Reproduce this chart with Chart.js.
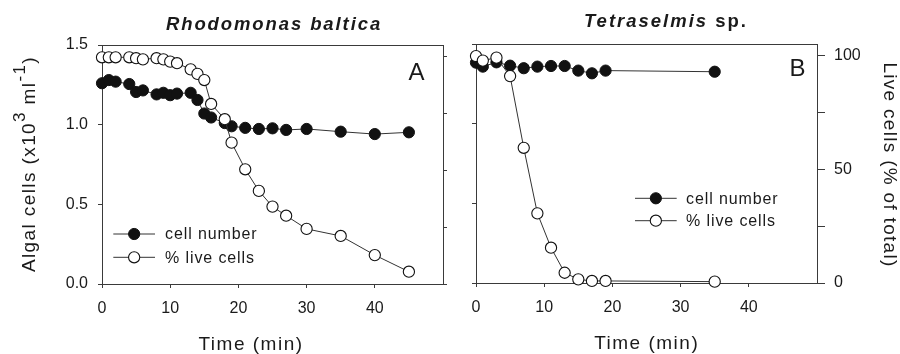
<!DOCTYPE html>
<html>
<head>
<meta charset="utf-8">
<script src="https://cdn.jsdelivr.net/npm/chart.js@4"></script>
<style>
    html, body { margin: 0; padding: 0; background: #fff; }
    #wrap { position: relative; width: 900px; height: 354px; }
    .panel { position: absolute; top: 0; height: 354px; }
    #panelA { left: 0; width: 460px; }
    #panelB { left: 460px; width: 440px; }
</style>
</head>
<body>
<div id="wrap">
    <div class="panel" id="panelA"><canvas id="chartA"></canvas></div>
    <div class="panel" id="panelB"><canvas id="chartB"></canvas></div>
</div>
<script>
// Dados (tempo em minutos)
const timeA = [0, 1, 2, 4, 5, 6, 8, 9, 10, 11, 13, 14, 15, 16, 18, 19, 21, 23, 25, 27, 30, 35, 40, 45];
const cellsA = [1.26, 1.28, 1.27, 1.255, 1.205, 1.215, 1.19, 1.2, 1.185, 1.195, 1.2, 1.155, 1.07, 1.045,
    1.01, 0.99, 0.98, 0.973, 0.977, 0.967, 0.973, 0.956, 0.941, 0.952];
const liveA = [99.6, 99.6, 99.6, 99.6, 99.2, 98.7, 99.2, 98.7, 97.7, 97.0, 94.3, 92.3, 89.6, 79.1,
    72.4, 62.1, 50.4, 40.9, 34.0, 30.0, 24.2, 21.1, 12.7, 5.4];

const timeB = [0, 1, 3, 5, 7, 9, 11, 13, 15, 17, 19, 35];
const cellsB = [1.383, 1.358, 1.385, 1.364, 1.348, 1.358, 1.362, 1.362, 1.333, 1.316, 1.333, 1.326];
const liveB = [99.7, 97.7, 99.0, 90.9, 59.4, 30.6, 15.5, 4.5, 1.6, 0.9, 0.9, 0.6];

// Ticks
const timeTicks = [0, 10, 20, 30, 40];
const cellTicks = [0, 0.5, 1.0, 1.5];
const pctTicks = [0, 25, 50, 75, 100];

const FONT = '"Liberation Sans", Arial, Helvetica, sans-serif';
const INK = '#1a1a1a';
const AXIS = '#3a3a3a';

Chart.defaults.font.family = FONT;
Chart.defaults.font.size = 16;
Chart.defaults.color = INK;

/**
 * Desenha uma sequência de trechos de texto (permite itálico misto e sobrescritos)
 */
function drawRuns(ctx, item) {
    ctx.save();
    ctx.fillStyle = INK;
    ctx.letterSpacing = (item.spacing || 0) + 'px';
    ctx.textBaseline = 'alphabetic';
    ctx.textAlign = 'left';
    const widths = item.runs.map(r => { ctx.font = r.font; return ctx.measureText(r.text).width; });
    const total = widths.reduce((a, b) => a + b, 0);
    ctx.translate(item.x, item.y);
    if (item.rotate) ctx.rotate(item.rotate);
    let x = -total / 2;
    item.runs.forEach((r, i) => {
        ctx.font = r.font;
        ctx.fillText(r.text, x, -(r.rise || 0));
        x += widths[i];
    });
    ctx.restore();
}

const panelText = {
    id: 'panelText',
    afterDraw(chart, args, opts) {
        (opts.items || []).forEach(item => drawRuns(chart.ctx, item));
    }
};

// Legenda desenhada dentro da área do gráfico
const panelLegend = {
    id: 'panelLegend',
    afterDraw(chart, args, opts) {
        if (!opts.rows) return;
        const ctx = chart.ctx;
        ctx.save();
        chart.data.datasets.forEach((ds, i) => {
            const y = opts.rows[i];
            ctx.strokeStyle = ds.borderColor;
            ctx.lineWidth = 1;
            ctx.beginPath();
            ctx.moveTo(opts.lineFrom, y);
            ctx.lineTo(opts.lineTo, y);
            ctx.stroke();
            ctx.beginPath();
            ctx.arc((opts.lineFrom + opts.lineTo) / 2, y, ds.pointRadius, 0, Math.PI * 2);
            ctx.fillStyle = ds.pointBackgroundColor;
            ctx.fill();
            ctx.lineWidth = ds.pointBorderWidth;
            ctx.strokeStyle = ds.pointBorderColor;
            ctx.stroke();
            ctx.fillStyle = INK;
            ctx.font = '16px ' + FONT;
            ctx.letterSpacing = '0.9px';
            ctx.textBaseline = 'middle';
            ctx.fillText(ds.label, opts.textX, y + 1);
            ctx.letterSpacing = '0px';
        });
        ctx.restore();
    }
};

function toPoints(xs, ys) {
    return xs.map((x, i) => ({ x: x, y: ys[i] }));
}

function datasets(times, cells, live) {
    return [
        {
            label: 'cell number',
            data: toPoints(times, cells),
            xAxisID: 'x',
            yAxisID: 'y',
            borderColor: '#333',
            borderWidth: 1,
            pointRadius: 5.6,
            pointBackgroundColor: '#111',
            pointBorderColor: '#111',
            pointBorderWidth: 1,
            order: 1,
            clip: false
        },
        {
            label: '% live cells',
            data: toPoints(times, live),
            xAxisID: 'x',
            yAxisID: 'yPct',
            borderColor: '#333',
            borderWidth: 1,
            pointRadius: 5.6,
            pointBackgroundColor: '#fff',
            pointBorderColor: '#111',
            pointBorderWidth: 1.1,
            order: 0,
            clip: false
        }
    ];
}

function frameGrid(len) {
    return { drawOnChartArea: false, drawTicks: true, tickLength: len, color: AXIS, lineWidth: 1 };
}

const frameBorder = { display: true, color: AXIS, width: 1 };

function buildScales(cfg) {
    return {
        x: {
            type: 'linear', position: 'bottom', min: 0, max: 50,
            afterBuildTicks: s => { s.ticks = timeTicks.map(v => ({ value: v })); },
            ticks: { padding: 11, color: INK },
            grid: frameGrid(4),
            border: frameBorder,
            afterFit: s => { s.height = cfg.bottom; }
        },
        xTop: {
            type: 'linear', position: 'top', min: 0, max: 50,
            ticks: { display: false },
            grid: { display: false },
            border: frameBorder,
            afterFit: s => { s.height = 0; }
        },
        y: {
            type: 'linear', position: 'left', min: 0, max: 1.5,
            afterBuildTicks: s => { s.ticks = cellTicks.map(v => ({ value: v })); },
            ticks: { display: cfg.leftLabels, padding: 10, color: INK, callback: v => v.toFixed(1) },
            grid: frameGrid(4),
            border: frameBorder,
            afterFit: s => { s.width = cfg.left; }
        },
        yPct: {
            type: 'linear', position: 'right', min: 0, max: 105,
            afterBuildTicks: s => { s.ticks = pctTicks.map(v => ({ value: v })); },
            ticks: { display: cfg.rightLabels, padding: 9, color: INK, callback: v => (v % 50 === 0 ? v : '') },
            grid: frameGrid(cfg.rightTick),
            border: frameBorder,
            afterFit: s => { s.width = cfg.right; }
        }
    };
}

const baseOptions = {
    responsive: true,
    maintainAspectRatio: false,
    animation: false,
    events: []
};

// Painel A - Rhodomonas baltica
new Chart(document.getElementById('chartA'), {
    type: 'line',
    data: { datasets: datasets(timeA, cellsA, liveA) },
    options: {
        ...baseOptions,
        layout: { padding: { top: 45, left: 0, right: 0, bottom: 0 } },
        scales: buildScales({ left: 102, right: 17, bottom: 70, leftLabels: true, rightLabels: false, rightTick: 4 }),
        plugins: {
            legend: { display: false },
            tooltip: { enabled: false },
            panelLegend: { rows: [234, 257.3], lineFrom: 113.3, lineTo: 155, textX: 165 },
            panelText: {
                items: [
                    { x: 274, y: 30, spacing: 1.9, runs: [{ text: 'Rhodomonas baltica', font: 'italic bold 18.5px ' + FONT }] },
                    { x: 416.5, y: 80, runs: [{ text: 'A', font: '24px ' + FONT }] },
                    { x: 251, y: 350, spacing: 1.5, runs: [{ text: 'Time (min)', font: '19px ' + FONT }] },
                    {
                        x: 35, y: 164, rotate: -Math.PI / 2, spacing: 1.4,
                        runs: [
                            { text: 'Algal cells (x10', font: '19px ' + FONT },
                            { text: '3', font: '17px ' + FONT, rise: 10 },
                            { text: ' ml', font: '19px ' + FONT },
                            { text: '-1', font: '17px ' + FONT, rise: 10 },
                            { text: ')', font: '19px ' + FONT }
                        ]
                    }
                ]
            }
        }
    },
    plugins: [panelText, panelLegend]
});

// Painel B - Tetraselmis sp.
new Chart(document.getElementById('chartB'), {
    type: 'line',
    data: { datasets: datasets(timeB, cellsB, liveB) },
    options: {
        ...baseOptions,
        layout: { padding: { top: 44, left: 0, right: 0, bottom: 0 } },
        scales: buildScales({ left: 16, right: 83, bottom: 71, leftLabels: false, rightLabels: true, rightTick: 8 }),
        plugins: {
            legend: { display: false },
            tooltip: { enabled: false },
            panelLegend: { rows: [198.3, 220.7], lineFrom: 175, lineTo: 216.7, textX: 226 },
            panelText: {
                items: [
                    {
                        x: 206, y: 27, spacing: 2,
                        runs: [
                            { text: 'Tetraselmis', font: 'italic bold 18.5px ' + FONT },
                            { text: ' sp.', font: 'bold 18.5px ' + FONT }
                        ]
                    },
                    { x: 337.5, y: 75.5, runs: [{ text: 'B', font: '24px ' + FONT }] },
                    { x: 186.7, y: 348.5, spacing: 1.5, runs: [{ text: 'Time (min)', font: '19px ' + FONT }] },
                    { x: 424, y: 165, rotate: Math.PI / 2, spacing: 1.3, runs: [{ text: 'Live cells (% of total)', font: '19px ' + FONT }] }
                ]
            }
        }
    },
    plugins: [panelText, panelLegend]
});
</script>
</body>
</html>
